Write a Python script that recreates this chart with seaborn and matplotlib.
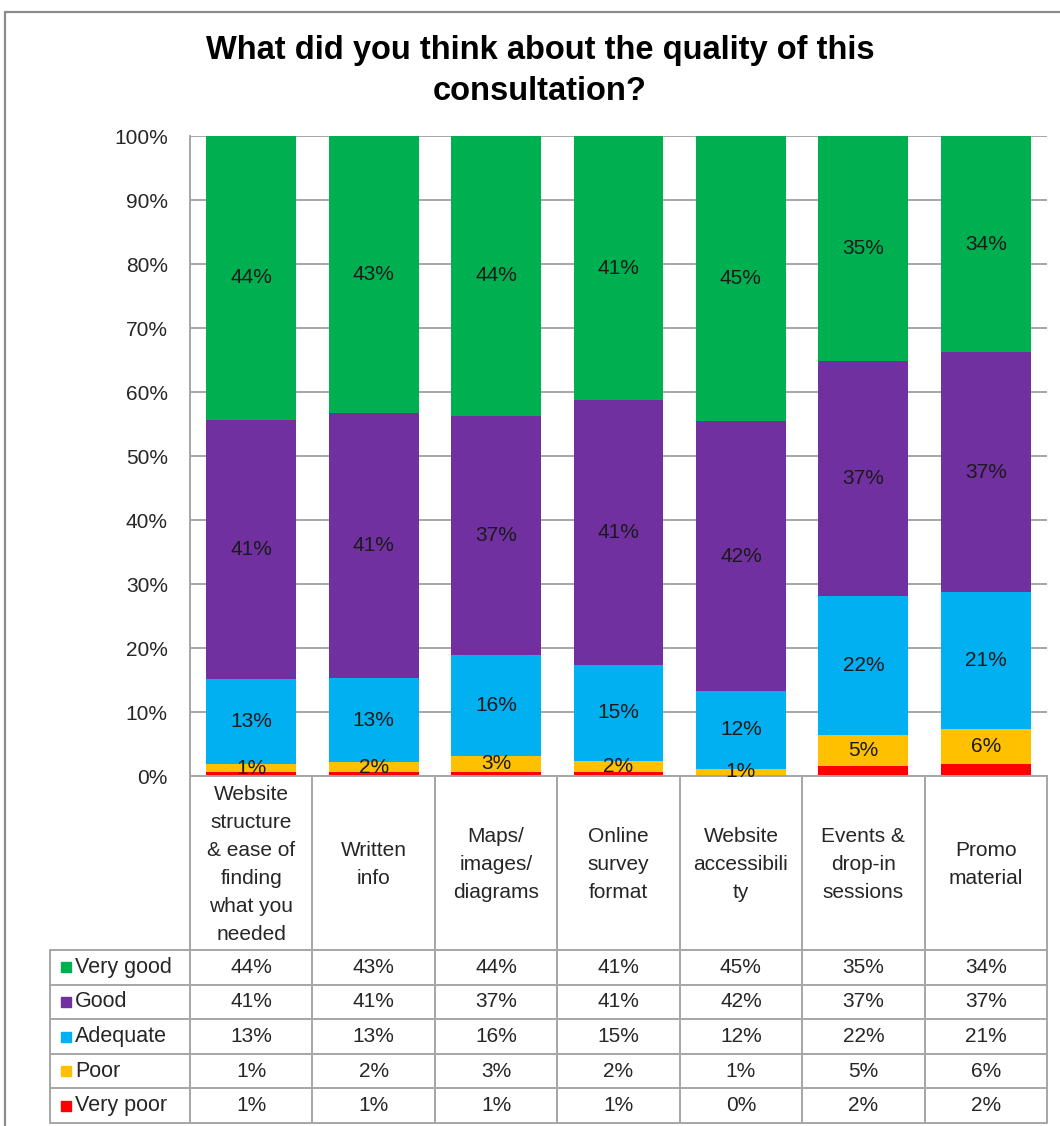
import numpy as np
import pandas as pd
import matplotlib
matplotlib.use("Agg")
import matplotlib.pyplot as plt
import matplotlib.ticker as mtick
from matplotlib.patches import Rectangle
import seaborn as sns

# survey data (percent of respondents per category)
categories = [
    "Website\nstructure\n& ease of\nfinding\nwhat you\nneeded",
    "Written\ninfo",
    "Maps/\nimages/\ndiagrams",
    "Online\nsurvey\nformat",
    "Website\naccessibili\nty",
    "Events &\ndrop-in\nsessions",
    "Promo\nmaterial",
]
levels = ["Very good", "Good", "Adequate", "Poor", "Very poor"]
very_good = [44.3, 43.3, 43.7, 41.3, 44.6, 35.1, 33.8]
good = [40.6, 41.4, 37.4, 41.3, 42.1, 36.7, 37.4]
adequate = [13.2, 13.1, 15.7, 15.1, 12.2, 21.8, 21.4]
poor = [1.3, 1.6, 2.6, 1.7, 0.9, 4.8, 5.6]
very_poor = [0.6, 0.6, 0.6, 0.6, 0.2, 1.6, 1.8]
level_colors = ["#00B050", "#7030A0", "#00B0F0", "#FFC000", "#FF0000"]
yticks = list(range(0, 101, 10))

W, H = 1060, 1126
LEFT, RIGHT, TOP, BOTTOM = 190, 1047, 136, 776
GRID = "#A6A6A6"
TXT = "#262626"
FS = 15

sns.set_style("white")
plt.rcParams["font.family"] = ["Liberation Sans", "DejaVu Sans"]

keys = [f"c{i}" for i in range(len(categories))]
series = [very_good, good, adequate, poor, very_poor]
df = pd.DataFrame({
    "key": keys * len(levels),
    "level": np.repeat(levels, len(keys)),
    "value": np.concatenate(series),
})
# stack from the bottom: very poor first
stack_order = levels[::-1]
df["level"] = pd.Categorical(df["level"], categories=stack_order, ordered=True)
df = df.sort_values(["key", "level"])
df["top"] = df.groupby("key")["value"].cumsum()
df["bottom"] = df["top"] - df["value"]

fig = plt.figure(figsize=(W / 100, H / 100), dpi=100)
ax = fig.add_axes([LEFT / W, 1 - BOTTOM / H, (RIGHT - LEFT) / W, (BOTTOM - TOP) / H])

# draw cumulative layers from the tallest down so each overlays the previous
for lvl, col in zip(levels, level_colors):
    sub = df[df["level"] == lvl]
    sns.barplot(data=sub, x="key", y="top", order=keys, color=col, saturation=1,
                width=0.735, linewidth=0, edgecolor="none", ax=ax, zorder=2)

for _, r in df.iterrows():
    if r["level"] == "Very poor":
        continue
    i = keys.index(r["key"])
    ax.text(i, r["bottom"] + r["value"] / 2, f"{r['value']:.0f}%", ha="center",
            va="center", fontsize=FS, color="#1a1a1a", zorder=3)

ax.set_xlim(-0.5, len(keys) - 0.5)
ax.set_ylim(0, 100)
ax.set_yticks(yticks)
ax.yaxis.set_major_formatter(mtick.PercentFormatter(decimals=0))
ax.tick_params(axis="y", length=0, pad=16, labelsize=FS, labelcolor=TXT)
ax.set_xticks([])
ax.set_xlabel("")
ax.set_ylabel("")
ax.yaxis.grid(True, color=GRID, lw=1.4)
ax.set_axisbelow(True)
for s in ["top", "right"]:
    ax.spines[s].set_visible(False)
for s in ["left", "bottom"]:
    ax.spines[s].set_color(GRID)
    ax.spines[s].set_linewidth(1.4)

# overlay in pixel coordinates for frame, title and data table
ov = fig.add_axes([0, 0, 1, 1], zorder=5)
ov.set_xlim(0, W)
ov.set_ylim(H, 0)
ov.axis("off")

ov.plot([5, W], [12, 12], color="#8C8C8C", lw=1.6)
ov.plot([5, 5], [12, H], color="#8C8C8C", lw=1.6)

ov.text(540, 71, "What did you think about the quality of this\nconsultation?",
        ha="center", va="center", fontsize=23.5, fontweight="bold", color="black",
        linespacing=1.4)

col_w = (RIGHT - LEFT) / len(keys)
row_top = 950
row_h = (1123 - 950) / len(levels)
tab_left = 50

# vertical lines
for i in range(len(keys) + 1):
    x = LEFT + i * col_w
    ov.plot([x, x], [BOTTOM, 1123], color=GRID, lw=1.4)
ov.plot([tab_left, tab_left], [row_top, 1123], color=GRID, lw=1.4)
# horizontal lines
for j in range(len(levels) + 1):
    y = row_top + j * row_h
    ov.plot([tab_left, RIGHT], [y, y], color=GRID, lw=1.4)

# category header
for i, cat in enumerate(categories):
    ov.text(LEFT + (i + 0.5) * col_w, (BOTTOM + row_top) / 2 + 2, cat, ha="center",
            va="center", fontsize=FS, color=TXT, linespacing=1.6)

# rows
for j, (lvl, col, vals) in enumerate(zip(levels, level_colors, series)):
    yc = row_top + (j + 0.5) * row_h
    ov.add_patch(Rectangle((61, yc - 5), 10, 10, color=col))
    ov.text(75, yc, lvl, ha="left", va="center", fontsize=FS + 0.5, color=TXT)
    for i, v in enumerate(vals):
        ov.text(LEFT + (i + 0.5) * col_w, yc, f"{v:.0f}%", ha="center",
                va="center", fontsize=FS, color=TXT)

fig.savefig("out.png", dpi=100)
